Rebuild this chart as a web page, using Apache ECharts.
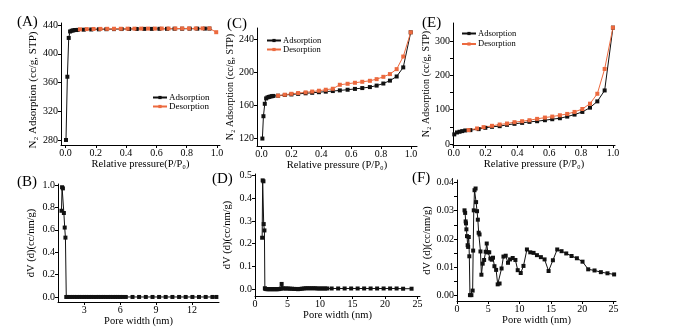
<!DOCTYPE html>
<html><head><meta charset="utf-8">
<script src="https://cdn.jsdelivr.net/npm/echarts@6/dist/echarts.min.js"></script>
<style>html,body{margin:0;padding:0;background:#fff}#c{width:685px;height:331px}</style>
</head><body><div id="c"></div>
<script>
const FONT = '"Liberation Serif","Times New Roman",serif';
const BLACK = '#111111', RED = '#ec6a3f';

// ---------- data ----------
const adsA = [[0.003,280],[0.012,368],[0.021,422],[0.03,431],[0.04,432],[0.05,432.5],[0.06,433],[0.07,433],[0.08,433.2],[0.12,433.5],[0.17,433.8],[0.22,434],[0.27,434.2],[0.32,434.3],[0.37,434.4],[0.42,434.5],[0.47,434.5],[0.52,434.6],[0.57,434.6],[0.62,434.7],[0.67,434.7],[0.72,434.8],[0.77,434.8],[0.82,434.9],[0.87,434.9],[0.92,435],[0.95,435]];
const desA = [[0.095,434],[0.14,434.3],[0.185,434.5],[0.23,434.6],[0.275,434.7],[0.32,434.8],[0.365,434.8],[0.41,434.9],[0.455,434.9],[0.5,435],[0.545,435],[0.59,435],[0.635,435.1],[0.68,435.1],[0.725,435.1],[0.77,435.2],[0.815,435.2],[0.86,435.2],[0.905,435.3],[0.95,435.3],[0.995,430]];

const adsC = [[0.006,120],[0.013,147],[0.022,162],[0.031,168.5],[0.04,169.7],[0.05,170.3],[0.06,170.8],[0.07,171.2],[0.08,171.5],[0.111,171.8],[0.156,172.6],[0.2,173.3],[0.245,174],[0.295,174.7],[0.339,175.3],[0.384,176],[0.43,176.7],[0.477,177.4],[0.524,178.2],[0.576,179],[0.625,180],[0.674,181],[0.725,182.2],[0.77,184],[0.815,186.5],[0.859,190],[0.904,195],[0.948,206],[0.998,248.4]];
const desC = [[0.111,171.8],[0.156,173],[0.2,174.1],[0.245,175],[0.295,175.8],[0.339,176.8],[0.384,177.8],[0.43,179],[0.477,180.2],[0.524,185],[0.576,186.2],[0.625,187.4],[0.674,188.6],[0.725,189.8],[0.77,191.8],[0.815,194.6],[0.859,197.9],[0.904,203.9],[0.948,219.1],[0.998,248.4]];

const adsE = [[0.004,28],[0.021,33.6],[0.037,35.6],[0.054,37.5],[0.073,39.4],[0.105,40.4],[0.157,43.3],[0.199,47.1],[0.241,50],[0.289,51.9],[0.335,55.8],[0.382,58.7],[0.43,61.5],[0.476,64.4],[0.524,66.3],[0.573,69.2],[0.619,72.1],[0.667,75],[0.713,79.8],[0.759,85.6],[0.808,93.3],[0.856,105.8],[0.902,124],[0.948,155.8],[1.0,338.5]];
const desE = [[0.094,40.4],[0.147,45.2],[0.188,49],[0.241,52.9],[0.289,56.7],[0.335,59.6],[0.382,63.5],[0.43,66.3],[0.476,69.2],[0.524,73.1],[0.573,76.9],[0.619,79.8],[0.667,83.6],[0.713,87.5],[0.759,93.3],[0.808,101.9],[0.856,117.3],[0.902,146.1],[0.948,218.3],[1.0,338.5]];

const psdB = [[1.1,0.77],[1.15,0.98],[1.22,0.97],[1.3,0.75],[1.37,0.62],[1.43,0.53],[1.5,0],[1.6,0],[1.8,0],[2.0,0],[2.2,0],[2.4,0],[2.6,0],[2.8,0],[3.0,0],[3.2,0],[3.4,0],[3.6,0],[3.8,0],[4.0,0],[4.2,0],[4.4,0],[4.6,0],[4.8,0],[5.0,0],[5.2,0],[5.4,0],[5.6,0],[5.8,0],[6.0,0],[6.2,0],[6.47,0],[7.03,0],[7.58,0],[8.14,0],[8.7,0],[9.25,0],[9.8,0],[10.36,0],[10.92,0],[11.47,0],[12.03,0],[12.58,0],[13.14,0],[13.7,0],[14.03,0]];

const psdD = [[1.1,0.226],[1.18,0.478],[1.3,0.474],[1.34,0.286],[1.45,0.258],[1.52,0.004],[1.6,0.001],[1.8,0],[2.0,0],[2.2,0],[2.4,0],[2.6,0],[2.8,0],[3.0,0],[3.2,0],[3.4,0],[3.6,0],[3.8,0.001],[4.0,0.003],[4.1,0.023],[4.25,0.004],[4.5,0.003],[4.8,0.003],[5.1,0.003],[5.4,0.002],[5.7,0.002],[6.0,0.001],[6.3,0.001],[6.6,0],[6.9,0.001],[7.2,0.002],[7.5,0.003],[7.8,0.004],[8.1,0.004],[8.4,0.004],[8.7,0.004],[9.0,0.004],[9.3,0.004],[9.6,0.003],[9.9,0.003],[10.2,0.003],[10.5,0.003],[10.8,0.003],[11.1,0.003],[11.8,0.003],[12.8,0.003],[13.8,0.003],[14.8,0.003],[15.8,0.003],[16.8,0.003],[17.8,0.003],[18.8,0.003],[19.8,0.003],[20.8,0.003],[21.8,0.003],[22.8,0.002],[24.1,0.002]];

const psdF = [[1.2,0.0301],[1.3,0.0292],[1.38,0.0262],[1.44,0.0255],[1.5,0.0234],[1.6,0.021],[1.7,0.0178],[1.78,0.0172],[1.88,0.0207],[1.97,0.0139],[2.07,0.0002],[2.3,0.0002],[2.5,0.0018],[2.58,0.0159],[2.68,0.0301],[2.8,0.0372],[2.97,0.0378],[3.05,0.033],[3.2,0.0298],[3.33,0.0268],[3.46,0.0222],[3.6,0.0216],[3.75,0.0156],[3.9,0.0074],[4.1,0.0113],[4.33,0.0126],[4.58,0.0155],[4.75,0.0184],[4.93,0.0153],[5.15,0.0153],[5.33,0.0131],[5.55,0.0127],[5.75,0.0134],[5.98,0.0104],[6.25,0.0091],[6.5,0.004],[6.8,0.0043],[7.12,0.0096],[7.42,0.0138],[7.78,0.0141],[8.15,0.0116],[8.48,0.0128],[8.9,0.0133],[9.33,0.0126],[9.7,0.009],[10.18,0.008],[10.62,0.0105],[11.17,0.0163],[11.7,0.0153],[12.23,0.0151],[12.77,0.0143],[13.4,0.0136],[13.99,0.0128],[14.63,0.0087],[15.32,0.0125],[16.01,0.0163],[16.7,0.0157],[17.45,0.0149],[18.3,0.014],[19.15,0.0132],[20.05,0.012],[20.96,0.0093],[21.97,0.0089],[22.98,0.0083],[24.04,0.0079],[25.1,0.0075]];

// tick labels (major) and tick marks (major + minor)
const ticksP = [0,0.2,0.4,0.6,0.8,1.0];
const marksP_E = [0,0.1,0.2,0.3,0.4,0.5,0.6,0.7,0.8,0.9,1.0];
const ticksA_y = [280,320,360,400,440];
const ticksC_y = [120,160,200,240];
const ticksE_y = [0,100,200,300];
const marksE_y = [0,50,100,150,200,250,300];
const ticksB_x = [3,6,9,12];
const ticksB_y = [0,0.2,0.4,0.6,0.8,1.0];
const ticksDF_x = [0,5,10,15,20,25];
const ticksD_y = [0,0.1,0.2,0.3,0.4,0.5];
const ticksF_y = [0,0.01,0.02,0.03,0.04];
const marksF_y = [0,0.005,0.01,0.015,0.02,0.025,0.03,0.035,0.04];

const panelLabels = ['(A)','(B)','(C)','(D)','(E)','(F)'];
const seriesNames = ['Adsorption','Desorption'];
const yTitleIso = 'N\u2082 Adsorption (cc/g, STP)';
const yTitlePsd = 'dV (d)(cc/nm/g)';
const xTitleA = 'Relative pressure(P/P\u2080)';
const xTitleCE = 'Relative pressure (P/P\u2080)';
const xTitlePsd = 'Pore width (nm)';

// ---------- layout ----------
const grids = [
  {left:61, top:23, width:159, height:122},   // A
  {left:257, top:28, width:160, height:118},  // C
  {left:453, top:23, width:162, height:122},  // E
  {left:58, top:184, width:161, height:118},  // B
  {left:255, top:174, width:165, height:122}, // D
  {left:457, top:180, width:159, height:121}  // F
];

function ax(gi,min,max,labels,marks,dec,name,gap,nfs,npad){
  return {
    type:'value', gridIndex:gi, min, max, name, nameGap:gap, nameLocation:'middle',
    nameTextStyle:{fontFamily:FONT,fontSize:nfs||10.5,color:'#000',padding:npad||0},
    axisLine:{show:true,onZero:false,lineStyle:{color:'#000',width:1}},
    axisTick:{show:true,customValues:marks||labels,length:3,lineStyle:{color:'#000',width:1}},
    axisLabel:{customValues:labels,fontFamily:FONT,fontSize:10,color:'#000',margin:3,
      formatter:(v)=>dec==null?String(v):Number(v).toFixed(dec)},
    splitLine:{show:false}
  };
}

const xAxes = [
  ax(0,-0.03,1.02,ticksP,null,1,xTitleA,10),
  ax(1,-0.03,1.04,ticksP,null,1,xTitleCE,10),
  ax(2,-0.004,1.013,ticksP,marksP_E,1,xTitleCE,10),
  ax(3,0.81,14.25,ticksB_x,null,null,xTitlePsd,12),
  ax(4,0,25.4,ticksDF_x,null,null,xTitlePsd,8),
  ax(5,0,25.4,ticksDF_x,null,null,xTitlePsd,14)
];
const yAxes = [
  ax(0,273,442.8,ticksA_y,null,null,yTitleIso,21,11,[0,12,0,0]),
  ax(1,111,253.6,ticksC_y,null,null,yTitleIso,19,10),
  ax(2,-2.9,352,ticksE_y,marksE_y,null,yTitleIso,16,10),
  ax(3,-0.045,1.009,ticksB_y,null,1,yTitlePsd,21),
  ax(4,-0.03,0.506,ticksD_y,null,1,yTitlePsd,22),
  ax(5,-0.00187,0.0408,ticksF_y,marksF_y,2,yTitlePsd,21)
];

function line(name,gi,data,color){
  return {name,type:'line',xAxisIndex:gi,yAxisIndex:gi,data,symbol:'rect',symbolSize:4,
    showSymbol:true,itemStyle:{color},lineStyle:{color,width:1},animation:false,silent:true};
}
const series = [
  line(seriesNames[0],0,adsA,BLACK), line(seriesNames[1],0,desA,RED),
  line(seriesNames[0],1,adsC,BLACK), line(seriesNames[1],1,desC,RED),
  line(seriesNames[0],2,adsE,BLACK), line(seriesNames[1],2,desE,RED),
  line('PSD B',3,psdB,BLACK), line('PSD D',4,psdD,BLACK), line('PSD F',5,psdF,BLACK)
];

function lg(left,top,gap,fs){
  return {left,top,orient:'vertical',itemGap:gap,itemWidth:14,itemHeight:4,data:seriesNames,
    selectedMode:false,padding:0,textStyle:{fontFamily:FONT,fontSize:fs,color:'#000',padding:[0,0,0,-3]}};
}
const legends = [lg(152,93,0,9), lg(266,36,0,8.5), lg(461,29,1.5,8.5)];

const labelPos = [[17,15],[17,175],[227,17],[212,172],[422,16],[412,171]];
const graphics = panelLabels.map((t,i)=>({type:'text',left:labelPos[i][0],top:labelPos[i][1],
  style:{text:t,fontFamily:FONT,fontSize:15,fill:'#000'}}));

const chart = echarts.init(document.getElementById('c'),null,{renderer:'canvas'});
chart.setOption({
  animation:false,
  backgroundColor:'#fff',
  grid:grids,
  xAxis:xAxes,
  yAxis:yAxes,
  legend:legends,
  series,
  graphic:graphics
});
</script></body></html>
